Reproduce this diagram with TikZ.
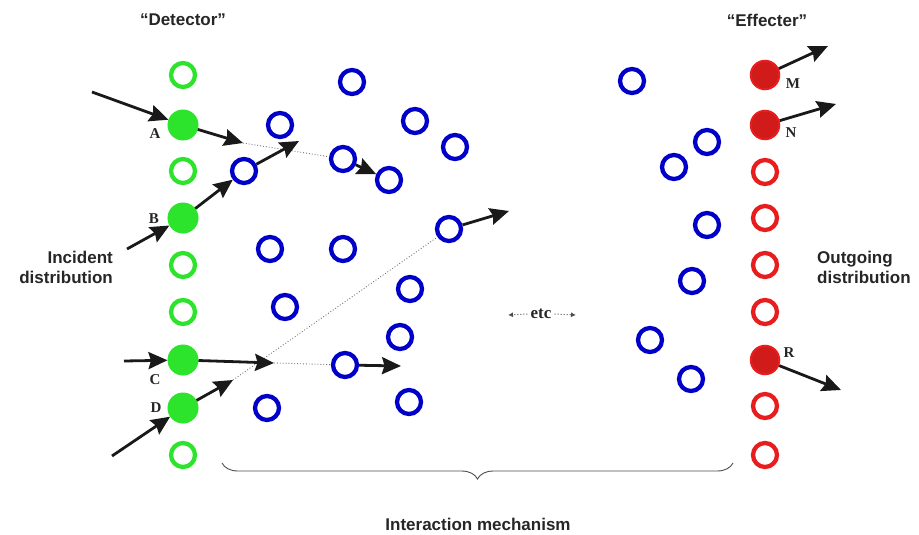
\documentclass[tikz,border=0pt]{standalone}
\usepackage{fontspec}
\setmainfont{Liberation Serif}
\newfontfamily\lsans{Liberation Sans}
\usetikzlibrary{arrows.meta,decorations.pathreplacing}
\definecolor{gcol}{RGB}{45,228,45}
\definecolor{bcol}{RGB}{0,0,200}
\definecolor{rcol}{RGB}{232,30,30}
\tikzset{
  x=1pt,y=-1pt,
  gopen/.style={circle,draw=gcol,line width=4.3pt,minimum size=24pt,inner sep=0pt},
  gfull/.style={circle,draw=gcol,fill=gcol,line width=1pt,minimum size=30pt,inner sep=0pt},
  bopen/.style={circle,draw=bcol,line width=4.3pt,minimum size=24pt,inner sep=0pt},
  ropen/.style={circle,draw=rcol,line width=4.3pt,minimum size=24pt,inner sep=0pt},
  rfull/.style={circle,draw=rcol,fill=rcol!90!black,line width=2pt,minimum size=28.5pt,inner sep=0pt},
  arr/.style={line width=2.8pt,-{Stealth[length=19pt,width=17pt,inset=2.5pt]},black!90},
  dotl/.style={dotted,line width=0.9pt,black!55},
  lab/.style={font=\fontsize{15}{17}\selectfont\bfseries,text=black!85,inner sep=0pt},
  ttl/.style={font=\lsans\fontsize{17}{19}\selectfont\bfseries,text=black!85,inner sep=0pt},
}
\begin{document}
\begin{tikzpicture}
\useasboundingbox (0,0) rectangle (919,535);
% green detector column
\node[gopen] (g1) at (183,75) {};
\node[gfull] (gA) at (183,125) {};
\node[gopen] (g3) at (183,171) {};
\node[gfull] (gB) at (183,218) {};
\node[gopen] (g5) at (183,265) {};
\node[gopen] (g6) at (183,312) {};
\node[gfull] (gC) at (183,360) {};
\node[gfull] (gD) at (183,408) {};
\node[gopen] (g9) at (183,455) {};
% red effecter column
\node[rfull] (rM) at (765,75) {};
\node[rfull] (rN) at (765,125) {};
\node[ropen] (r3) at (765,172) {};
\node[ropen] (r4) at (765,218) {};
\node[ropen] (r5) at (765,265) {};
\node[ropen] (r6) at (765,312) {};
\node[rfull] (rR) at (765,360) {};
\node[ropen] (r8) at (765,406) {};
\node[ropen] (r9) at (765,455) {};
% blue circles
\node[bopen] (b1) at (352,82) {};
\node[bopen] (b2) at (280,125) {};
\node[bopen] (b3) at (415,121) {};
\node[bopen] (b4) at (455,147) {};
\node[bopen] (b5) at (244,171) {};
\node[bopen] (b6) at (343,159) {};
\node[bopen] (b7) at (389,180) {};
\node[bopen] (b8) at (270,249) {};
\node[bopen] (b9) at (343,249) {};
\node[bopen] (b10) at (449,229) {};
\node[bopen] (b11) at (285,307) {};
\node[bopen] (b12) at (410,289) {};
\node[bopen] (b13) at (400,337) {};
\node[bopen] (b14) at (345,365) {};
\node[bopen] (b15) at (409,402) {};
\node[bopen] (b16) at (267,408) {};
\node[bopen] (b17) at (632,81) {};
\node[bopen] (b18) at (707,142) {};
\node[bopen] (b19) at (674,167) {};
\node[bopen] (b20) at (707,225) {};
\node[bopen] (b21) at (692,281) {};
\node[bopen] (b22) at (650,340) {};
\node[bopen] (b23) at (691,379) {};
% free ends
\coordinate (aIn) at (92,92);
\coordinate (aOut) at (243,143);
\coordinate (bIn) at (127,249);
\coordinate (b5Out) at (299,141);
\coordinate (cIn) at (124,361);
\coordinate (cOut) at (274,363);
\coordinate (b14Out) at (401,366);
\coordinate (dIn) at (112,456);
\coordinate (dOut) at (233,380);
\coordinate (b10Out) at (509,211);
\coordinate (mOut) at (828,46);
\coordinate (nOut) at (836,104);
\coordinate (rOut) at (841,390);
% dotted trajectories
\draw[dotl] (aOut) -- (b6);
\draw[dotl] (cOut) -- (b14);
\draw[dotl] (dOut) -- (b10);
% arrows
\draw[arr] (aIn) -- (gA);
\draw[arr] (gA) -- (aOut);
\draw[arr] (b6) -- (b7);
\draw[arr] (bIn) -- (gB);
\draw[arr] (gB) -- (b5);
\draw[arr] (b5) -- (b5Out);
\draw[arr] (cIn) -- (gC);
\draw[arr] (gC) -- (cOut);
\draw[arr] (b14) -- (b14Out);
\draw[arr] (dIn) -- (gD);
\draw[arr] (gD) -- (dOut);
\draw[arr] (b10) -- (b10Out);
\draw[arr] (rM) -- (mOut);
\draw[arr] (rN) -- (nOut);
\draw[arr] (rR) -- (rOut);
% letter labels
\node[lab] (lA) at (155,134) {A};
\node[lab] (lB) at (154,219) {B};
\node[lab] (lC) at (155,380) {C};
\node[lab] (lD) at (156,408) {D};
\node[lab] (lM) at (793,84) {M};
\node[lab] (lN) at (791,133) {N};
\node[lab] (lR) at (789,353) {R};
% titles
\node[ttl] (tdet) at (183,20) {“Detector”};
\node[ttl] (teff) at (767,20) {“Effecter”};
\node[ttl,align=right,anchor=east,font=\lsans\fontsize{17}{20}\selectfont\bfseries] (tinc) at (113,267) {Incident\\distribution};
\node[ttl,align=left,anchor=west,font=\lsans\fontsize{17}{20}\selectfont\bfseries] (tout) at (817,267) {Outgoing\\distribution};
\node[ttl] (tint) at (478,524) {Interaction mechanism};
% etc
\node[lab,font=\fontsize{17}{19}\selectfont\bfseries] (etc) at (541,314) {etc};
\coordinate (etcL) at (508,315);
\coordinate (etcR) at (576,315);
\draw[dotted,line width=1pt,black!70,-{Latex[length=5pt,width=5pt]}] ([xshift=-3pt]etc.west) -- (etcL);
\draw[dotted,line width=1pt,black!70,-{Latex[length=5pt,width=5pt]}] ([xshift=3pt]etc.east) -- (etcR);
% brace
\coordinate (brL) at (222,463);
\coordinate (brR) at (733,463);
\draw[decorate,decoration={brace,mirror,amplitude=16pt},line width=0.9pt,black!70] (brL) -- (brR);
\end{tikzpicture}
\end{document}
